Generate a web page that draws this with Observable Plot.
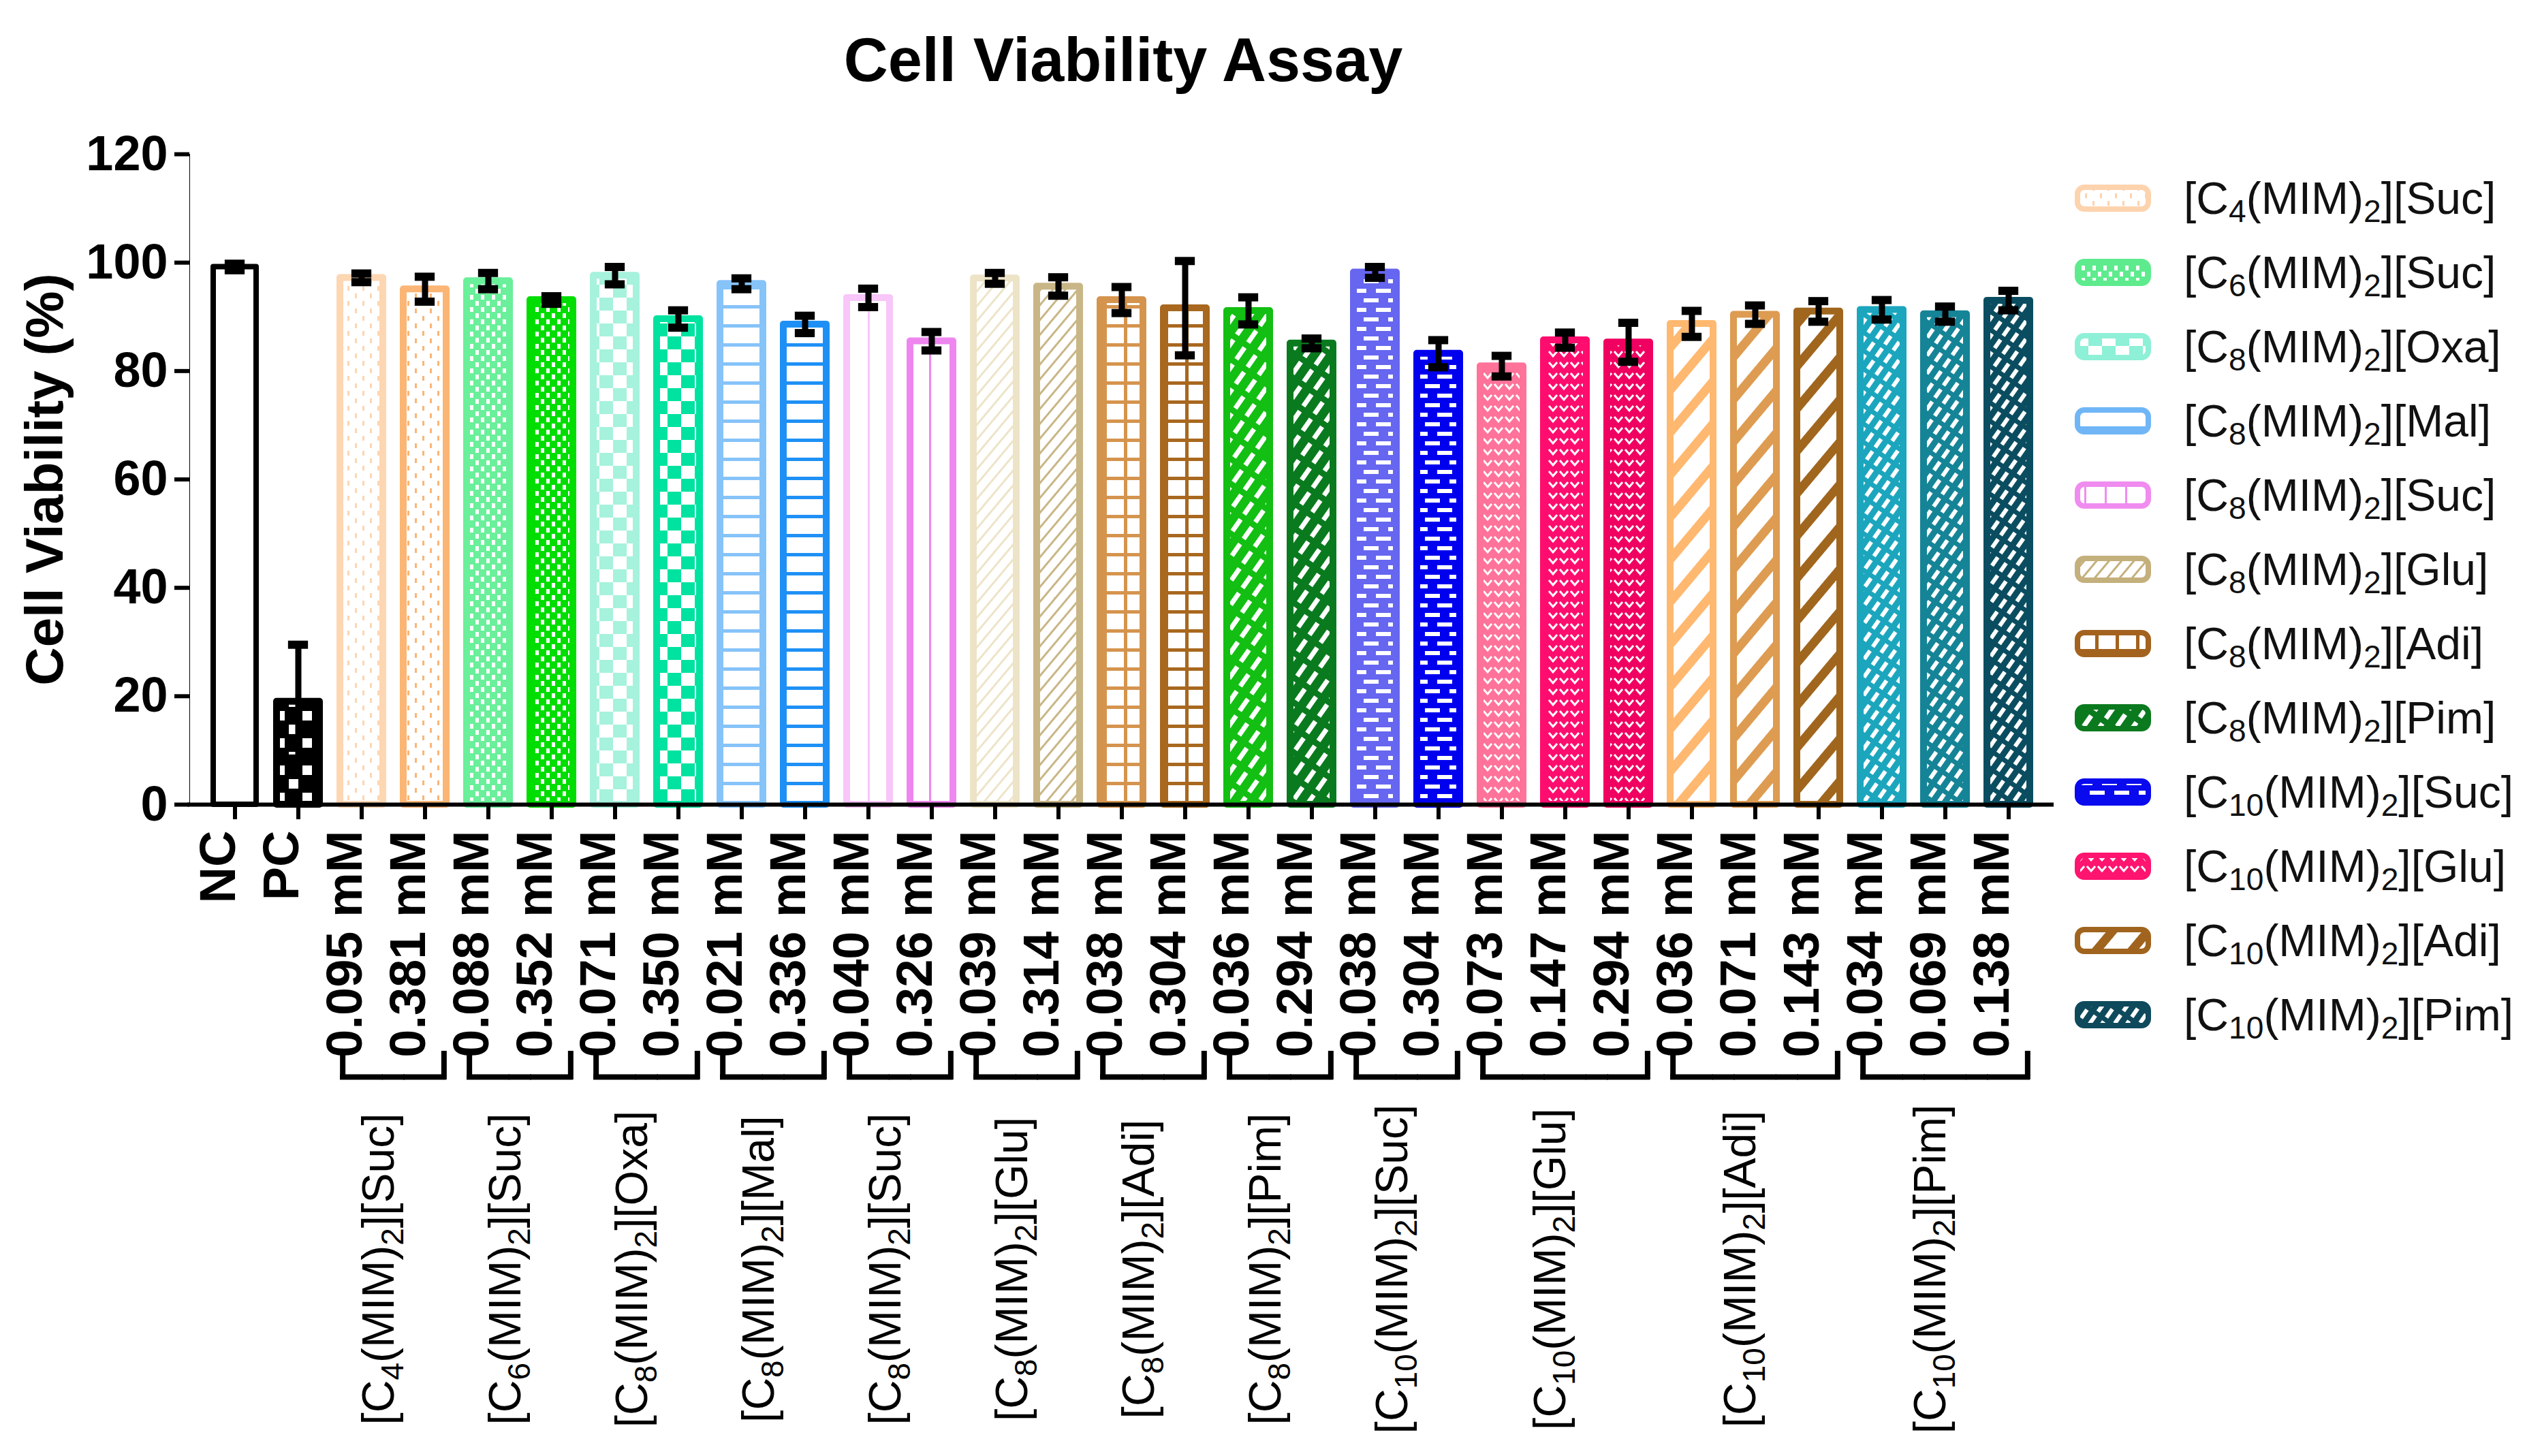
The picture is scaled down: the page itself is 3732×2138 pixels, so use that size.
<!DOCTYPE html>
<html>
<head>
<meta charset="utf-8">
<script src="https://cdn.jsdelivr.net/npm/d3@7"></script>
<script src="https://cdn.jsdelivr.net/npm/@observablehq/plot@0.6"></script>
<style>
  body { margin: 0; background: #fff; font-family: "Liberation Sans", Arial, sans-serif; }
  #wrap { position: relative; width: 3732px; height: 2138px; }
  #title { position: absolute; left: 0; top: 38px; width: 3298px; text-align: center; font-weight: bold; font-size: 90px; line-height: 100px; color: #000; z-index: 2; }
  #chart { position: absolute; left: 0; top: 0; }
  #legend { position: absolute; left: 3046px; top: 236px; }
  .row { display: flex; align-items: center; height: 109px; }
  .row svg { width: 112px; height: 40px; flex: none; }
  .row span { margin-left: 48px; font-size: 66px; color: #111; white-space: nowrap; }
  .row sub { font-size: 70%; vertical-align: -0.25em; line-height: 0; }
  #chart g[aria-label^="y-axis"] line, #chart g[aria-label^="y-axis"] path { stroke-width: 6px; }
  #chart g[aria-label^="y-axis"] text { font-weight: bold; font-size: 72px; }
</style>
</head>
<body>
<div id="wrap">
  <div id="title">Cell Viability Assay</div>
  <div id="chart"></div>
  <div id="legend"></div>
</div>
<script>
// x tick labels, in plot order
const labels = ["NC", "PC",
  "0.095 mM", "0.381 mM", "0.088 mM", "0.352 mM", "0.071 mM", "0.350 mM",
  "0.021 mM", "0.336 mM", "0.040 mM", "0.326 mM", "0.039 mM", "0.314 mM",
  "0.038 mM", "0.304 mM", "0.036 mM", "0.294 mM", "0.038 mM", "0.304 mM",
  "0.073 mM", "0.147 mM", "0.294 mM", "0.036 mM", "0.071 mM", "0.143 mM",
  "0.034 mM", "0.069 mM", "0.138 mM"];
// which compound each bar belongs to (-1 = controls)
const groupOf = [-1, -1, 0, 0, 1, 1, 2, 2, 3, 3, 4, 4, 5, 5, 6, 6, 7, 7, 8, 8, 9, 9, 9, 10, 10, 10, 11, 11, 11];
// mean cell viability (%) and error
const viability = [99.2, 19.0, 97.2, 95.1, 96.6, 93.1, 97.6, 89.6, 96.1, 88.6, 93.5, 85.5, 97.1, 95.6,
  93.1, 91.6, 91.1, 85.1, 98.2, 83.2, 80.9, 85.7, 85.3, 88.7, 90.4, 91.0, 91.3, 90.5, 93.0];
const sem = [0.6, 10.5, 0.8, 2.3, 1.5, 0.7, 1.6, 1.6, 1.0, 1.6, 1.7, 1.7, 1.0, 1.7,
  2.4, 8.7, 2.5, 0.9, 1.0, 2.5, 1.9, 1.4, 3.6, 2.4, 1.7, 1.9, 1.8, 1.4, 1.8];
const barColors = ["#000000", "#000000", "#fdd6b2", "#fbb574", "#6aef9a", "#00dd00", "#a6f2dc", "#00e2a0",
  "#86c3f9", "#1e90f5", "#f8c6f8", "#ef86ef", "#ede4c8", "#c9b686", "#d5944e", "#a8681f",
  "#12bf12", "#0a7a1e", "#6666f0", "#0000ee", "#ff7299", "#ff0d6e", "#f00060",
  "#ffb870", "#dd9c52", "#a0661e", "#1ca6be", "#158497", "#0b4d60"];
// compounds (legend + bracket labels), "_n" = subscript
const groupNames = ["[C_4(MIM)_2][Suc]", "[C_6(MIM)_2][Suc]", "[C_8(MIM)_2][Oxa]", "[C_8(MIM)_2][Mal]",
  "[C_8(MIM)_2][Suc]", "[C_8(MIM)_2][Glu]", "[C_8(MIM)_2][Adi]", "[C_8(MIM)_2][Pim]",
  "[C_10(MIM)_2][Suc]", "[C_10(MIM)_2][Glu]", "[C_10(MIM)_2][Adi]", "[C_10(MIM)_2][Pim]"];
const legendColors = ["#fdd3ae", "#5eeb8e", "#8ef0d6", "#70b6f6", "#f08cf0", "#c4b07c",
  "#a3621e", "#0b7a1e", "#0a0aee", "#ff1470", "#a0641e", "#0e4a5c"];
const groupPatterns = ["dots", "fineCheck", "checker", "hlines", "vlines", "diag",
  "grid", "dashes", "brick", "hearts", "stripes", "fineDashes"];

// layout
const W = 3040, H = 2138, mT = 226, mB = 957, mL = 278, mR = 25;
const padIn = 0.32, padOut = 0.27;
const frameH = H - mT - mB;
const step = (W - mL - mR) / (labels.length - padIn + 2 * padOut);
const bw = step * (1 - padIn);
const capIn = (bw - 30) / 2;
const brY = 400; // bracket offset below the baseline

const rows = labels.map((l, i) => ({
  i, v: viability[i], e: sem[i], g: groupOf[i],
  fill: i === 0 ? "#ffffff" : `url(#bar${i})`,
  stroke: barColors[i]
}));
const groups = groupNames.map((name, g) => {
  const m = rows.filter(d => d.g === g).map(d => d.i);
  return {name, n: m.length, first: m[0], mid: m[1], last: m[m.length - 1]};
});
const inGroup = rows.filter(d => d.g >= 0);

const chart = Plot.plot({
  width: W,
  height: H,
  marginTop: mT,
  marginBottom: mB,
  marginLeft: mL,
  marginRight: mR,
  style: {fontFamily: '"Liberation Sans", Arial, sans-serif', fontSize: "72px", background: "transparent", color: "#000"},
  x: {domain: d3.range(labels.length), paddingInner: padIn, paddingOuter: padOut, axis: null},
  y: {domain: [0, 120], ticks: 6, tickSize: 22, tickPadding: 10, label: null, line: true},
  color: {type: "identity"},
  marks: [
    Plot.barY(rows, {x: "i", y: "v", fill: "fill", stroke: "stroke",
      strokeWidth: d => d.i === 0 ? 8 : 10, strokeLinejoin: "round"}),
    Plot.ruleY([0], {strokeWidth: 6, insetLeft: -3}),
    Plot.tickX(rows, {x: "i", strokeWidth: 6, insetTop: frameH, insetBottom: -22}),
    // error bars
    Plot.ruleX(rows, {x: "i", y1: d => d.v - d.e, y2: d => d.v + d.e, strokeWidth: 9}),
    Plot.tickY(rows, {x: "i", y: d => d.v + d.e, strokeWidth: 12, insetLeft: capIn, insetRight: capIn}),
    Plot.tickY(rows, {x: "i", y: d => d.v - d.e, strokeWidth: 12, insetLeft: capIn, insetRight: capIn}),
    // tick labels
    Plot.text(rows, {x: "i", text: d => labels[d.i], frameAnchor: "bottom", dy: 38, rotate: -90,
      textAnchor: "end", fontWeight: "bold", fontSize: 74}),
    // brackets under each compound
    Plot.tickY(inGroup, {x: "i", y: () => 0, dy: brY, strokeWidth: 8}),
    Plot.tickY(inGroup.filter(d => groupOf[d.i + 1] === d.g), {x: "i", y: () => 0, dy: brY, strokeWidth: 8,
      insetLeft: bw - 2, insetRight: -(step - bw) - 2}),
    Plot.tickX(groups, {x: "first", dx: -bw / 2 + 4, insetTop: frameH + brY - 38, insetBottom: -(brY + 4), strokeWidth: 8}),
    Plot.tickX(groups, {x: "last", dx: bw / 2 - 4, insetTop: frameH + brY - 38, insetBottom: -(brY + 4), strokeWidth: 8}),
    // compound names
    Plot.text(groups.filter(d => d.n === 2), {x: "first", text: "name", frameAnchor: "bottom", dx: step / 2,
      dy: 682, rotate: -90, fontSize: 66}),
    Plot.text(groups.filter(d => d.n === 3), {x: "mid", text: "name", frameAnchor: "bottom",
      dy: 682, rotate: -90, fontSize: 66}),
    // y title
    Plot.text(["Cell Viability (%)"], {text: d => d, frameAnchor: "left", dx: -211, rotate: -90,
      textAnchor: "middle", fontSize: 78, fontWeight: "bold"})
  ]
});

// fill patterns
function addPattern(defs, id, kind, c) {
  const p = defs.append("pattern").attr("id", id).attr("patternUnits", "userSpaceOnUse");
  const box = (w, h, bg) => {
    p.attr("width", w).attr("height", h);
    p.append("rect").attr("width", w).attr("height", h).attr("fill", bg);
  };
  const r = (x, y, w, h, f) => p.append("rect").attr("x", x).attr("y", y).attr("width", w).attr("height", h).attr("fill", f);
  if (kind === "pc") { box(40, 40, "#000"); r(4, 4, 14, 14, "#fff"); r(24, 24, 14, 14, "#fff"); }
  else if (kind === "dots") { box(22, 22, "#fff"); r(4, 2, 3, 7, c); r(15, 13, 3, 7, c); }
  else if (kind === "fineCheck") { box(16, 18, c); r(2, 1, 5, 7, "#fff"); r(10, 10, 5, 7, "#fff"); }
  else if (kind === "checker") { box(40, 38, c); r(0, 0, 20, 19, "#fff"); r(20, 19, 20, 19, "#fff"); }
  else if (kind === "hlines") { box(12, 28, "#fff"); r(0, 0, 12, 5, c); }
  else if (kind === "vlines") { box(30, 12, "#fff"); r(14, 0, 3, 12, c); }
  else if (kind === "diag") { box(14, 14, "#fff"); r(0, 0, 3, 14, c); p.attr("patternTransform", "rotate(40)"); }
  else if (kind === "grid") { box(30, 28, c); r(5, 5, 25, 23, "#fff"); }
  else if (kind === "dashes") { box(20, 30, c); r(6, 0, 7, 21, "#fff"); p.attr("patternTransform", "rotate(35)"); }
  else if (kind === "brick") { box(36, 28, c); r(4, 4, 22, 6, "#fff"); r(22, 18, 22, 6, "#fff"); r(-14, 18, 22, 6, "#fff"); }
  else if (kind === "hearts") {
    box(16, 16, c);
    p.append("path").attr("d", "M2,4 L8,11 L14,4").attr("fill", "none").attr("stroke", "#fff").attr("stroke-width", 3);
  }
  else if (kind === "stripes") { box(40, 40, "#fff"); r(0, 0, 13, 40, c); p.attr("patternTransform", "rotate(40)"); }
  else if (kind === "fineDashes") { box(15, 22, c); r(4, 0, 6, 15, "#fff"); p.attr("patternTransform", "rotate(35)"); }
}

const svg = d3.select(chart);
const defs = svg.insert("defs", ":first-child");
rows.forEach(d => {
  if (d.i === 0) return;
  addPattern(defs, `bar${d.i}`, d.i === 1 ? "pc" : groupPatterns[d.g], barColors[d.i]);
});
groupNames.forEach((n, g) => addPattern(defs, `leg${g}`, groupPatterns[g], legendColors[g]));

// subscripts in the rotated compound names
svg.selectAll("text").each(function () {
  const s = this.textContent;
  if (!s.includes("_")) return;
  const t = d3.select(this).text(null);
  s.split(/_(\d+)/).forEach((part, k) => {
    if (!part) return;
    const sp = t.append("tspan").text(part);
    if (k % 2) sp.attr("font-size", 46).attr("dy", 14);
    else if (k > 0) sp.attr("dy", -14);
  });
});

d3.select("#chart").append(() => chart);

// legend
const legend = d3.select("#legend");
groupNames.forEach((n, g) => {
  const row = legend.append("div").attr("class", "row");
  row.append("svg").attr("viewBox", "0 0 112 40")
    .append("rect").attr("x", 4).attr("y", 4).attr("width", 104).attr("height", 32).attr("rx", 10)
    .attr("fill", `url(#leg${g})`).attr("stroke", legendColors[g]).attr("stroke-width", 8);
  row.append("span").html(n.replace(/_(\d+)/g, "<sub>$1</sub>"));
});
</script>
</body>
</html>
